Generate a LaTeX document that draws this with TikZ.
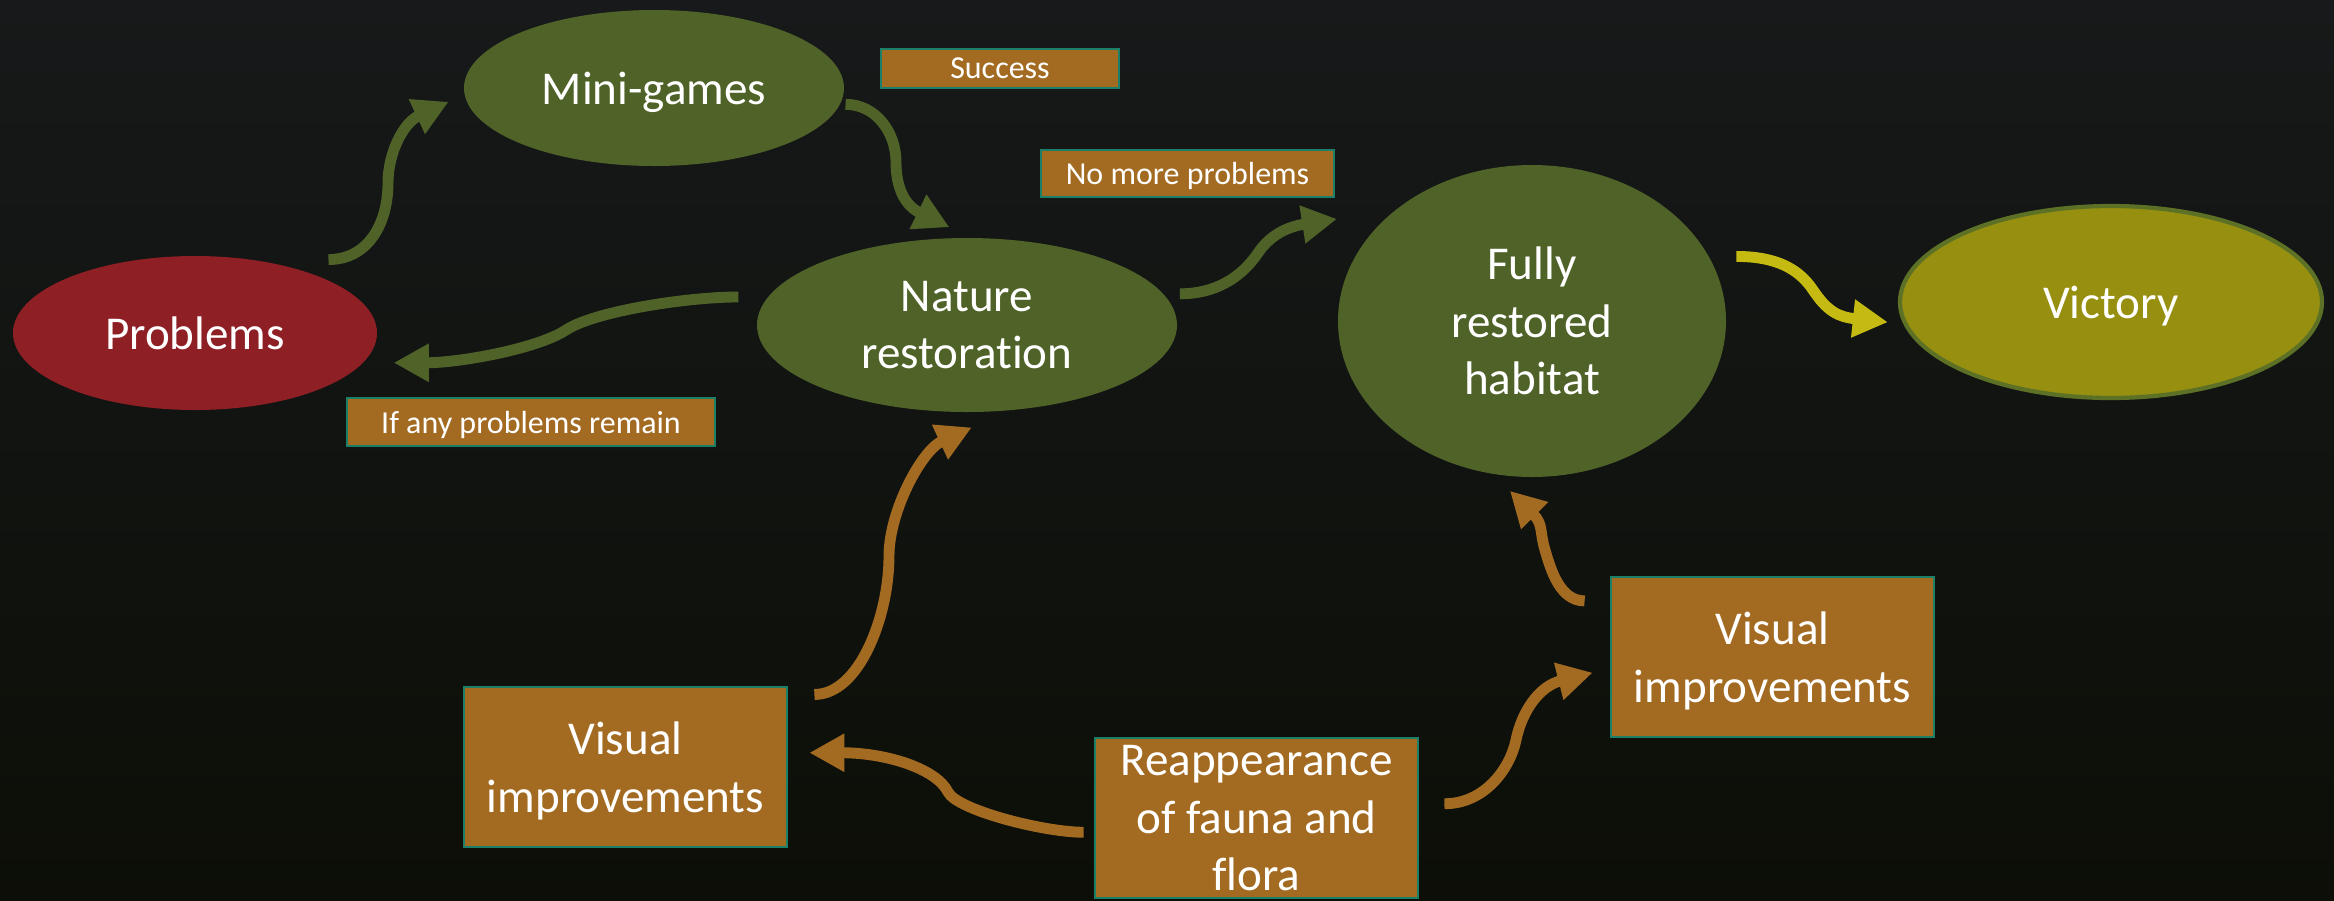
\documentclass[tikz,border=0pt]{standalone}
\usepackage{fontspec}
\setmainfont{Carlito}[Ligatures=NoCommon]
\usetikzlibrary{arrows.meta,shapes.geometric}
\definecolor{leaf}{HTML}{4F6228}
\definecolor{rust}{HTML}{8E1F25}
\definecolor{bark}{HTML}{A36B22}
\definecolor{rim}{HTML}{1C8068}
\definecolor{gold}{HTML}{968F10}
\definecolor{goldrim}{HTML}{5C7026}
\definecolor{lemon}{HTML}{C4BA12}
\definecolor{dusk}{HTML}{17191A}
\definecolor{night}{HTML}{0C0E07}
\newcommand{\boxfont}{\fontsize{13.4}{16.4}\selectfont}
\newcommand{\tagfont}{\fontsize{9.1}{11}\selectfont}
\tikzset{
  blob/.style={ellipse, fill=#1, draw=none, inner sep=0pt, text=white, align=center,
               font=\boxfont, text depth=0pt},
  card/.style={rectangle, fill=bark, draw=rim, line width=0.8pt, inner sep=0pt, text=white,
               align=center, font=\boxfont, text depth=0pt, minimum width=3.23cm, minimum height=1.6cm},
  tag/.style={rectangle, fill=bark, draw=rim, line width=0.8pt, inner sep=0pt, text=white,
              font=\tagfont, text depth=0pt},
  flow/.style={-{Triangle[length=3.5mm,width=3.6mm]}, line width=3.1pt, draw=#1},
}

\begin{document}
\begin{tikzpicture}
    \useasboundingbox (0,0) rectangle (23.34,-9);
    \shade[top color=dusk, bottom color=night] (0,0) rectangle (23.34,-9);

    % loop nodes
    \node[blob=rust, minimum width=3.64cm, minimum height=1.54cm] (prob) at (1.95,-3.33) {Problems};
    \node[blob=leaf, minimum width=3.80cm, minimum height=1.56cm] (mini) at (6.54,-0.88) {Mini-games};
    \node[blob=leaf, minimum width=4.20cm, minimum height=1.74cm] (nat) at (9.67,-3.25) {Nature\\restoration};
    \node[blob=leaf, minimum width=3.88cm, minimum height=3.12cm] (full) at (15.32,-3.21) {Fully\\restored\\habitat};
    \node[blob=gold, draw=goldrim, line width=1.2pt, minimum width=4.22cm, minimum height=1.92cm] (vict) at (21.11,-3.02) {Victory};

    % boxes at the bottom
    \node[card] (vl) at (6.255,-7.67) {Visual\\improvements};
    \node[card] (reap) at (12.565,-8.18) {Reappearance\\of fauna and\\flora};
    \node[card] (vr) at (17.725,-6.57) {Visual\\improvements};

    % condition tags
    \node[tag, minimum width=2.38cm, minimum height=0.39cm] (success) at (10.00,-0.685) {Success};
    \node[tag, minimum width=2.93cm, minimum height=0.47cm] (nomore) at (11.875,-1.735) {No more problems};
    \node[tag, minimum width=3.68cm, minimum height=0.48cm] (ifany) at (5.31,-4.22) {If any problems remain};

    % green arrows
    \draw[flow=leaf, shorten <=7.4mm, shorten >=1.7mm] (prob.51.5) .. controls +(1.14,0) and +(0,-0.4) .. (3.88,-1.83)
        .. controls +(0,0.3) and +(-0.607,-0.283) .. (mini.182);
    \draw[flow=leaf, shorten <=0.5mm, shorten >=2.3mm] (mini.-5.6) .. controls +(0.35,0) and +(0,0.3) .. (8.96,-1.62)
        .. controls +(0,-0.25) and +(-0.657,0.321) .. (nat.88);
    \draw[flow=leaf, shorten <=2.9mm, shorten >=3mm] (nat.172) .. controls +(-0.79,0) and +(0.29,0.19) .. (5.66,-3.30)
        .. controls +(-0.29,-0.19) and +(0.95,0) .. (prob.-10);
    \draw[flow=leaf, shorten <=1.6mm, shorten >=5.85mm] (nat.9.6) .. controls +(0.51,0) and +(-0.17,-0.25) .. (12.58,-2.53)
        .. controls +(0.12,0.18) and +(-1.072,-0.169) .. (full.141);

    % to victory
    \draw[flow=lemon, shorten <=2.7mm, shorten >=1.55mm] (full.20) .. controls +(0.67,0) and +(-0.14,0.21) .. (18.13,-2.90)
        .. controls +(0.14,-0.21) and +(-0.652,0.069) .. (vict.186.6);

    % brown arrows
    \draw[flow=bark, shorten <=2.6mm, shorten >=3.9mm] (vl.24) .. controls +(0.71,0) and +(0,-0.6) .. (8.89,-5.56)
        .. controls +(0,0.45) and +(-0.854,-0.394) .. (nat.-65.7);
    \draw[flow=bark, shorten <=2.5mm, shorten >=2.3mm] (vr.161.2) .. controls +(-0.5,0) and +(0.056,-0.19) .. (15.45,-5.50)
        .. controls +(-0.056,0.19) and +(0.496,-0.496) .. (full.-104.8);
    \draw[flow=bark, shorten <=1mm, shorten >=2.1mm] (reap.185) .. controls +(-0.5,0) and +(0.09,-0.18) .. (9.48,-7.92)
        .. controls +(-0.12,0.24) and +(0.96,0) .. (vl.5.3);
    \draw[flow=bark, shorten <=2.5mm, shorten >=1.75mm] (reap.5.3) .. controls +(0.65,0) and +(-0.06,-0.29) .. (15.16,-7.40)
        .. controls +(0.06,0.29) and +(-0.703,-0.178) .. (vr.184);
\end{tikzpicture}
\end{document}
